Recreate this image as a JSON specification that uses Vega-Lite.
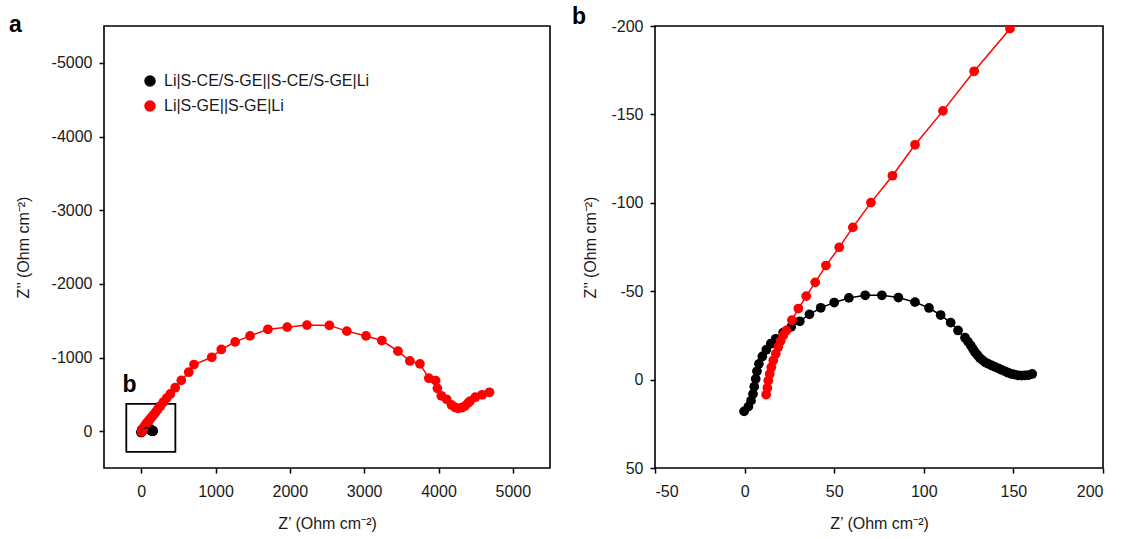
{
  "$schema": "https://vega.github.io/schema/vega-lite/v6.json",
  "padding": {"left": 8, "top": 5, "right": 5, "bottom": 5},
  "config": {
    "font": "Liberation Sans",
    "view": {"stroke": "#000000", "strokeWidth": 1.6},
    "axis": {
      "domain": false, "grid": false, "ticks": true, "tickSize": 5, "tickWidth": 1.5, "tickColor": "#000000",
      "labelFont": "Liberation Sans", "labelFontSize": 16, "labelColor": "#1a1a1a",
      "titleFont": "Liberation Sans", "titleFontSize": 16, "titleFontWeight": "normal", "titleColor": "#1a1a1a"
    }
  },
  "datasets": {
    "eis": [
      {"s": "Li|S-CE/S-GE||S-CE/S-GE|Li", "i": 1, "x": -0.3, "y": 18},
      {"s": "Li|S-CE/S-GE||S-CE/S-GE|Li", "i": 2, "x": 2.1, "y": 15.3},
      {"s": "Li|S-CE/S-GE||S-CE/S-GE|Li", "i": 3, "x": 3.6, "y": 11.9},
      {"s": "Li|S-CE/S-GE||S-CE/S-GE|Li", "i": 4, "x": 4.7, "y": 8.1},
      {"s": "Li|S-CE/S-GE||S-CE/S-GE|Li", "i": 5, "x": 5.4, "y": 4},
      {"s": "Li|S-CE/S-GE||S-CE/S-GE|Li", "i": 6, "x": 6.2, "y": -0.4},
      {"s": "Li|S-CE/S-GE||S-CE/S-GE|Li", "i": 7, "x": 6.9, "y": -4.7},
      {"s": "Li|S-CE/S-GE||S-CE/S-GE|Li", "i": 8, "x": 8, "y": -8.9},
      {"s": "Li|S-CE/S-GE||S-CE/S-GE|Li", "i": 9, "x": 9.9, "y": -13.1},
      {"s": "Li|S-CE/S-GE||S-CE/S-GE|Li", "i": 10, "x": 12.1, "y": -16.9},
      {"s": "Li|S-CE/S-GE||S-CE/S-GE|Li", "i": 11, "x": 14.6, "y": -20.3},
      {"s": "Li|S-CE/S-GE||S-CE/S-GE|Li", "i": 12, "x": 17.4, "y": -23.1},
      {"s": "Li|S-CE/S-GE||S-CE/S-GE|Li", "i": 13, "x": 21.5, "y": -26.5},
      {"s": "Li|S-CE/S-GE||S-CE/S-GE|Li", "i": 14, "x": 26, "y": -29.8},
      {"s": "Li|S-CE/S-GE||S-CE/S-GE|Li", "i": 15, "x": 30.8, "y": -33},
      {"s": "Li|S-CE/S-GE||S-CE/S-GE|Li", "i": 16, "x": 36.2, "y": -36.9},
      {"s": "Li|S-CE/S-GE||S-CE/S-GE|Li", "i": 17, "x": 42.5, "y": -40.6},
      {"s": "Li|S-CE/S-GE||S-CE/S-GE|Li", "i": 18, "x": 50, "y": -43.6},
      {"s": "Li|S-CE/S-GE||S-CE/S-GE|Li", "i": 19, "x": 58.2, "y": -46.2},
      {"s": "Li|S-CE/S-GE||S-CE/S-GE|Li", "i": 20, "x": 67.3, "y": -47.7},
      {"s": "Li|S-CE/S-GE||S-CE/S-GE|Li", "i": 21, "x": 76.6, "y": -47.7},
      {"s": "Li|S-CE/S-GE||S-CE/S-GE|Li", "i": 22, "x": 85.8, "y": -46.4},
      {"s": "Li|S-CE/S-GE||S-CE/S-GE|Li", "i": 23, "x": 95.1, "y": -43.8},
      {"s": "Li|S-CE/S-GE||S-CE/S-GE|Li", "i": 24, "x": 102.9, "y": -40.5},
      {"s": "Li|S-CE/S-GE||S-CE/S-GE|Li", "i": 25, "x": 109.4, "y": -36.5},
      {"s": "Li|S-CE/S-GE||S-CE/S-GE|Li", "i": 26, "x": 115, "y": -32.2},
      {"s": "Li|S-CE/S-GE||S-CE/S-GE|Li", "i": 27, "x": 119.1, "y": -27.8},
      {"s": "Li|S-CE/S-GE||S-CE/S-GE|Li", "i": 28, "x": 123, "y": -23.7},
      {"s": "Li|S-CE/S-GE||S-CE/S-GE|Li", "i": 29, "x": 124.6, "y": -21.5},
      {"s": "Li|S-CE/S-GE||S-CE/S-GE|Li", "i": 30, "x": 126.2, "y": -19.3},
      {"s": "Li|S-CE/S-GE||S-CE/S-GE|Li", "i": 31, "x": 127.4, "y": -17.4},
      {"s": "Li|S-CE/S-GE||S-CE/S-GE|Li", "i": 32, "x": 128.6, "y": -15.5},
      {"s": "Li|S-CE/S-GE||S-CE/S-GE|Li", "i": 33, "x": 129.9, "y": -13.9},
      {"s": "Li|S-CE/S-GE||S-CE/S-GE|Li", "i": 34, "x": 131.2, "y": -12.3},
      {"s": "Li|S-CE/S-GE||S-CE/S-GE|Li", "i": 35, "x": 132.7, "y": -11},
      {"s": "Li|S-CE/S-GE||S-CE/S-GE|Li", "i": 36, "x": 134.2, "y": -9.8},
      {"s": "Li|S-CE/S-GE||S-CE/S-GE|Li", "i": 37, "x": 136, "y": -8.9},
      {"s": "Li|S-CE/S-GE||S-CE/S-GE|Li", "i": 38, "x": 137.9, "y": -8},
      {"s": "Li|S-CE/S-GE||S-CE/S-GE|Li", "i": 39, "x": 139.7, "y": -7.2},
      {"s": "Li|S-CE/S-GE||S-CE/S-GE|Li", "i": 40, "x": 141.6, "y": -6.4},
      {"s": "Li|S-CE/S-GE||S-CE/S-GE|Li", "i": 41, "x": 143.4, "y": -5.5},
      {"s": "Li|S-CE/S-GE||S-CE/S-GE|Li", "i": 42, "x": 145.3, "y": -4.7},
      {"s": "Li|S-CE/S-GE||S-CE/S-GE|Li", "i": 43, "x": 147.1, "y": -3.9},
      {"s": "Li|S-CE/S-GE||S-CE/S-GE|Li", "i": 44, "x": 149, "y": -3.2},
      {"s": "Li|S-CE/S-GE||S-CE/S-GE|Li", "i": 45, "x": 150.8, "y": -2.8},
      {"s": "Li|S-CE/S-GE||S-CE/S-GE|Li", "i": 46, "x": 152.7, "y": -2.4},
      {"s": "Li|S-CE/S-GE||S-CE/S-GE|Li", "i": 47, "x": 154.6, "y": -2.3},
      {"s": "Li|S-CE/S-GE||S-CE/S-GE|Li", "i": 48, "x": 156.5, "y": -2.4},
      {"s": "Li|S-CE/S-GE||S-CE/S-GE|Li", "i": 49, "x": 158.5, "y": -2.6},
      {"s": "Li|S-CE/S-GE||S-CE/S-GE|Li", "i": 50, "x": 160.5, "y": -3.2},
      {"s": "Li|S-GE||S-GE|Li", "i": 1, "x": 12, "y": 8.5},
      {"s": "Li|S-GE||S-GE|Li", "i": 2, "x": 12.7, "y": 4.7},
      {"s": "Li|S-GE||S-GE|Li", "i": 3, "x": 13.2, "y": 0.6},
      {"s": "Li|S-GE||S-GE|Li", "i": 4, "x": 14, "y": -3.2},
      {"s": "Li|S-GE||S-GE|Li", "i": 5, "x": 14.9, "y": -7},
      {"s": "Li|S-GE||S-GE|Li", "i": 6, "x": 16, "y": -10.8},
      {"s": "Li|S-GE||S-GE|Li", "i": 7, "x": 17.4, "y": -14.6},
      {"s": "Li|S-GE||S-GE|Li", "i": 8, "x": 18.8, "y": -18.4},
      {"s": "Li|S-GE||S-GE|Li", "i": 9, "x": 20.1, "y": -21.8},
      {"s": "Li|S-GE||S-GE|Li", "i": 10, "x": 21.6, "y": -25},
      {"s": "Li|S-GE||S-GE|Li", "i": 11, "x": 23.3, "y": -27.8},
      {"s": "Li|S-GE||S-GE|Li", "i": 12, "x": 26.4, "y": -33.6},
      {"s": "Li|S-GE||S-GE|Li", "i": 13, "x": 30, "y": -40.2},
      {"s": "Li|S-GE||S-GE|Li", "i": 14, "x": 34.4, "y": -47.2},
      {"s": "Li|S-GE||S-GE|Li", "i": 15, "x": 39.4, "y": -55},
      {"s": "Li|S-GE||S-GE|Li", "i": 16, "x": 45.4, "y": -64.5},
      {"s": "Li|S-GE||S-GE|Li", "i": 17, "x": 52.8, "y": -74.8},
      {"s": "Li|S-GE||S-GE|Li", "i": 18, "x": 60.4, "y": -86.1},
      {"s": "Li|S-GE||S-GE|Li", "i": 19, "x": 70.5, "y": -100.1},
      {"s": "Li|S-GE||S-GE|Li", "i": 20, "x": 82.5, "y": -115.3},
      {"s": "Li|S-GE||S-GE|Li", "i": 21, "x": 95.1, "y": -132.8},
      {"s": "Li|S-GE||S-GE|Li", "i": 22, "x": 110.7, "y": -152},
      {"s": "Li|S-GE||S-GE|Li", "i": 23, "x": 128.1, "y": -174.4},
      {"s": "Li|S-GE||S-GE|Li", "i": 24, "x": 148.1, "y": -198.5},
      {"s": "Li|S-GE||S-GE|Li", "i": 25, "x": 171, "y": -227},
      {"s": "Li|S-GE||S-GE|Li", "i": 26, "x": 197, "y": -261},
      {"s": "Li|S-GE||S-GE|Li", "i": 27, "x": 227, "y": -300},
      {"s": "Li|S-GE||S-GE|Li", "i": 28, "x": 262, "y": -345},
      {"s": "Li|S-GE||S-GE|Li", "i": 29, "x": 300, "y": -395},
      {"s": "Li|S-GE||S-GE|Li", "i": 30, "x": 343, "y": -448},
      {"s": "Li|S-GE||S-GE|Li", "i": 31, "x": 392, "y": -505},
      {"s": "Li|S-GE||S-GE|Li", "i": 32, "x": 458, "y": -590},
      {"s": "Li|S-GE||S-GE|Li", "i": 33, "x": 540, "y": -690},
      {"s": "Li|S-GE||S-GE|Li", "i": 34, "x": 640, "y": -800},
      {"s": "Li|S-GE||S-GE|Li", "i": 35, "x": 710, "y": -905},
      {"s": "Li|S-GE||S-GE|Li", "i": 36, "x": 950, "y": -1003},
      {"s": "Li|S-GE||S-GE|Li", "i": 37, "x": 1078, "y": -1109},
      {"s": "Li|S-GE||S-GE|Li", "i": 38, "x": 1264, "y": -1212},
      {"s": "Li|S-GE||S-GE|Li", "i": 39, "x": 1464, "y": -1293},
      {"s": "Li|S-GE||S-GE|Li", "i": 40, "x": 1705, "y": -1383},
      {"s": "Li|S-GE||S-GE|Li", "i": 41, "x": 1965, "y": -1412},
      {"s": "Li|S-GE||S-GE|Li", "i": 42, "x": 2230, "y": -1440},
      {"s": "Li|S-GE||S-GE|Li", "i": 43, "x": 2532, "y": -1436},
      {"s": "Li|S-GE||S-GE|Li", "i": 44, "x": 2767, "y": -1358},
      {"s": "Li|S-GE||S-GE|Li", "i": 45, "x": 3025, "y": -1293},
      {"s": "Li|S-GE||S-GE|Li", "i": 46, "x": 3238, "y": -1230},
      {"s": "Li|S-GE||S-GE|Li", "i": 47, "x": 3455, "y": -1086},
      {"s": "Li|S-GE||S-GE|Li", "i": 48, "x": 3615, "y": -953},
      {"s": "Li|S-GE||S-GE|Li", "i": 49, "x": 3750, "y": -914},
      {"s": "Li|S-GE||S-GE|Li", "i": 50, "x": 3870, "y": -719},
      {"s": "Li|S-GE||S-GE|Li", "i": 51, "x": 3961, "y": -686},
      {"s": "Li|S-GE||S-GE|Li", "i": 52, "x": 3985, "y": -581},
      {"s": "Li|S-GE||S-GE|Li", "i": 53, "x": 4038, "y": -480},
      {"s": "Li|S-GE||S-GE|Li", "i": 54, "x": 4110, "y": -432},
      {"s": "Li|S-GE||S-GE|Li", "i": 55, "x": 4175, "y": -356},
      {"s": "Li|S-GE||S-GE|Li", "i": 56, "x": 4225, "y": -322},
      {"s": "Li|S-GE||S-GE|Li", "i": 57, "x": 4263, "y": -310},
      {"s": "Li|S-GE||S-GE|Li", "i": 58, "x": 4310, "y": -318},
      {"s": "Li|S-GE||S-GE|Li", "i": 59, "x": 4355, "y": -340},
      {"s": "Li|S-GE||S-GE|Li", "i": 60, "x": 4395, "y": -380},
      {"s": "Li|S-GE||S-GE|Li", "i": 61, "x": 4425, "y": -408},
      {"s": "Li|S-GE||S-GE|Li", "i": 62, "x": 4495, "y": -461},
      {"s": "Li|S-GE||S-GE|Li", "i": 63, "x": 4588, "y": -494},
      {"s": "Li|S-GE||S-GE|Li", "i": 64, "x": 4686, "y": -528}
    ],
    "box": [{"x": -200, "x2": 460, "y": -370, "y2": 280}],
    "lab": [{"x": -155, "y": -529, "t": "b"}]
  },
  "spacing": 20,
  "resolve": {"scale": {"color": "independent"}, "legend": {"color": "independent"}},
  "hconcat": [
    {
      "width": 446,
      "height": 442,
      "title": {"text": "a", "anchor": "start", "frame": "group", "dx": -95, "dy": 23, "offset": -6, "baseline": "alphabetic", "fontSize": 23, "fontWeight": "bold", "font": "Liberation Sans", "color": "#000000"},
      "encoding": {
        "x": {"field": "x", "type": "quantitative",
          "scale": {"domain": [-500, 5500], "nice": false, "zero": false},
          "axis": {"values": [0, 1000, 2000, 3000, 4000, 5000], "title": "Z’ (Ohm cm⁻²)", "labelPadding": 10, "titlePadding": 16,
            "labelExpr": "datum.value < 0 ? '-' + format(-datum.value, 'd') : format(datum.value, 'd')"}},
        "y": {"field": "y", "type": "quantitative",
          "scale": {"domain": [-5500, 500], "reverse": true, "nice": false, "zero": false},
          "axis": {"values": [-5000, -4000, -3000, -2000, -1000, 0], "title": "Z’’ (Ohm cm⁻²)", "labelPadding": 7, "titlePadding": 20,
            "labelExpr": "datum.value < 0 ? '-' + format(-datum.value, 'd') : format(datum.value, 'd')"}}
      },
      "layer": [
        {
          "data": {"name": "box"},
          "mark": {"type": "rect", "fill": null, "fillOpacity": 0, "stroke": "#000000", "strokeWidth": 1.8},
          "encoding": {"x2": {"field": "x2"}, "y2": {"field": "y2"}}
        },
        {
          "data": {"name": "lab"},
          "mark": {"type": "text", "fontSize": 23, "fontWeight": "bold", "font": "Liberation Sans", "baseline": "alphabetic", "align": "center", "color": "#000000"},
          "encoding": {"text": {"field": "t"}}
        },
        {
          "data": {"name": "eis"},
          "mark": {"type": "point", "shape": "circle", "filled": true, "size": 95, "opacity": 1},
          "encoding": {
            "color": {"field": "s", "type": "nominal", "scale": {"domain": ["Li|S-CE/S-GE||S-CE/S-GE|Li", "Li|S-GE||S-GE|Li"], "range": ["#000000", "#ff0000"]},
              "legend": {"orient": "none", "legendX": 38, "legendY": 47, "title": null, "labelFontSize": 16, "labelFont": "Liberation Sans", "labelColor": "#1a1a1a", "labelLimit": 500, "symbolSize": 100, "symbolType": "circle", "rowPadding": 9, "labelOffset": 6, "padding": 0}}
          }
        },
        {
          "data": {"name": "eis"},
          "mark": {"type": "line", "strokeWidth": 1.5},
          "encoding": {
            "color": {"field": "s", "type": "nominal"},
            "order": {"field": "i", "type": "quantitative"}
          }
        }
      ]
    },
    {
      "width": 448,
      "height": 442,
      "title": {"text": "b", "anchor": "start", "frame": "group", "dx": -83, "dy": 23, "offset": -6, "baseline": "alphabetic", "fontSize": 23, "fontWeight": "bold", "font": "Liberation Sans", "color": "#000000"},
      "data": {"name": "eis"},
      "encoding": {
        "x": {"field": "x", "type": "quantitative",
          "scale": {"domain": [-50, 200], "nice": false, "zero": false},
          "axis": {"values": [-50, 0, 50, 100, 150, 200], "title": "Z’ (Ohm cm⁻²)", "labelPadding": 10, "titlePadding": 16,
            "labelExpr": "datum.value < 0 ? '-' + format(-datum.value, 'd') : format(datum.value, 'd')"}},
        "y": {"field": "y", "type": "quantitative",
          "scale": {"domain": [-200, 50], "reverse": true, "nice": false, "zero": false},
          "axis": {"values": [-200, -150, -100, -50, 0, 50], "title": "Z’’ (Ohm cm⁻²)", "labelPadding": 7, "titlePadding": 12,
            "labelExpr": "datum.value < 0 ? '-' + format(-datum.value, 'd') : format(datum.value, 'd')"}},
        "color": {"field": "s", "type": "nominal", "scale": {"domain": ["Li|S-CE/S-GE||S-CE/S-GE|Li", "Li|S-GE||S-GE|Li"], "range": ["#000000", "#ff0000"]}, "legend": null}
      },
      "layer": [
        {
          "mark": {"type": "line", "strokeWidth": 1.5, "clip": true},
          "encoding": {"order": {"field": "i", "type": "quantitative"}}
        },
        {
          "mark": {"type": "circle", "size": 95, "opacity": 1, "clip": true}
        }
      ]
    }
  ]
}
